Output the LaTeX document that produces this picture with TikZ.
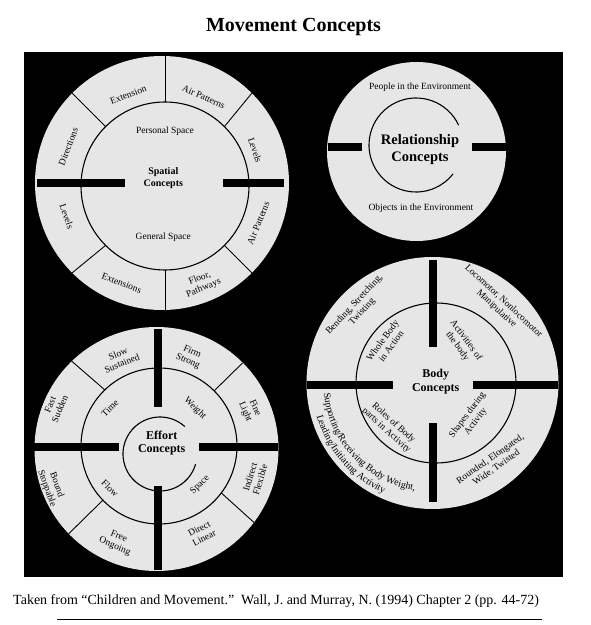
\documentclass[tikz,border=0pt]{standalone}
\usepackage{fontspec}
\setmainfont{Liberation Serif}
\usetikzlibrary{calc,decorations.text}
\definecolor{disc}{HTML}{E6E6E6}
\begin{document}
\begin{tikzpicture}[x=1pt,y=1pt,
  lbl/.style={font=\fontsize{9.5}{10.5}\selectfont, align=center, inner sep=0pt},
  ctr/.style={font=\bfseries\fontsize{12}{13.5}\selectfont, align=center, inner sep=0pt},
  bar/.style={line width=7.5pt},
  thinline/.style={line width=0.9pt},
  ring/.style={line width=1.1pt}]
\useasboundingbox (0,0) rectangle (591,625);
\fill[white] (0,0) rectangle (591,625);
\fill[black] (24,48) rectangle (563,573);

% title and caption
\node[font=\bfseries\fontsize{20}{23}\selectfont, inner sep=0pt] (title) at (293.5,598) {Movement Concepts};
\node[anchor=west, font=\fontsize{14}{16}\selectfont, inner sep=0pt] (cap) at (13,24) {Taken from “Children and Movement.”\ \ Wall, J. and Murray, N. (1994) Chapter 2 (pp. 44-72)};
\coordinate (ruleL) at (57,6);
\coordinate (ruleR) at (542,6);
\draw[line width=0.8pt] (ruleL) -- (ruleR);

% ---------------- Spatial concepts
\coordinate (So) at (162,442);
\coordinate (Si) at (165,439);
\fill[disc] (So) circle (127);
\draw[ring] (Si) circle (84);
\foreach \a in {45,135,225,315} \draw[thinline] ($(Si)+(\a:84)$) -- ($(So)+(\a:127)$);
\draw[thinline] ($(Si)+(90:84)$) -- ++(0,46);
\draw[thinline] ($(Si)+(270:84)$) -- ++(0,-40);
\draw[bar] (37,442) -- (125,442);
\draw[bar] (223,442) -- (284,442);
\node[lbl, rotate=21] (s1) at (128.3,530) {Extension};
\node[lbl, rotate=-24] (s2) at (203.7,528.3) {Air Patterns};
\node[lbl, rotate=-71] (s3) at (255,475) {Levels};
\node[lbl, rotate=69] (s4) at (68.3,478.3) {Directions};
\node[lbl, rotate=-70] (s5) at (66.7,408.3) {Levels};
\node[lbl, rotate=68] (s6) at (258.3,401.7) {Air Patterns};
\node[lbl, rotate=-21] (s7) at (121.7,341.7) {Extensions};
\node[lbl, rotate=22] (s8) at (201.7,341.7) {Floor,\\Pathways};
\node[lbl] (s9) at (165,493.3) {Personal Space};
\node[lbl] (s10) at (163.3,387.3) {General Space};
\node[ctr, font=\bfseries\fontsize{10}{11.5}\selectfont] (sc) at (163.3,446.7) {Spatial\\Concepts};

% ---------------- Relationship concepts
\coordinate (Ro) at (416.5,473.5);
\coordinate (Ra) at (416,480);
\fill[disc] (Ro) circle (89.5);
\draw[ring] ($(Ra)+(25:47)$) arc (25:322:47);
\draw[bar, line width=8pt] (328,477.5) -- (362,477.5);
\draw[bar, line width=8pt] (472,477.5) -- (506,477.5);
\node[lbl] (r1) at (420,538) {People in the Environment};
\node[lbl] (r2) at (421,417) {Objects in the Environment};
\node[ctr, font=\bfseries\fontsize{14.5}{17}\selectfont] (rc) at (420,475) {Relationship\\Concepts};

% ---------------- Effort concepts
\coordinate (Eo) at (156.5,176);
\coordinate (Em) at (159,179);
\coordinate (Ea) at (160,171);
\fill[disc] (Eo) circle (122);
\draw[ring] (Em) circle (78);
\draw[ring] ($(Ea)+(48:37)$) arc (48:344:37);
\foreach \a in {134,45,-37,224} \draw[thinline] ($(Em)+(\a:78)$) -- ($(Eo)+(\a:122)$);
\draw[bar] (158,296) -- (158,218);
\draw[bar] (158,139) -- (158,55);
\draw[bar] (33,178) -- (119,178);
\draw[bar] (199,178) -- (278,178);
\node[lbl, rotate=22] (e1) at (120,266.7) {Slow\\Sustained};
\node[lbl, rotate=-24] (e2) at (190,268.3) {Firm\\Strong};
\node[lbl, rotate=-67] (e3) at (250,215) {Fine\\Light};
\node[lbl, rotate=67] (e4) at (55,218.3) {Fast\\Sudden};
\node[lbl, rotate=-70] (e5) at (51.7,138.3) {Bound\\Stoppable};
\node[lbl, rotate=73] (e6) at (255,146.7) {Indirect\\Flexible};
\node[lbl, rotate=28] (e7) at (201.7,91.7) {Direct\\Linear};
\node[lbl, rotate=-23] (e8) at (116.7,83.3) {Free\\Ongoing};
\node[lbl, rotate=45] (e9) at (110,216.7) {Time};
\node[lbl, rotate=-45] (e10) at (195,216.7) {Weight};
\node[lbl, rotate=-45] (e11) at (110,136.7) {Flow};
\node[lbl, rotate=45] (e12) at (200,140) {Space};
\node[ctr] (ec) at (161.7,181.7) {Effort\\Concepts};

% ---------------- Body concepts
\coordinate (Bo) at (432.5,242);
\coordinate (Bi) at (436,242);
\fill[disc] (Bo) circle (126);
\draw[ring] (Bi) circle (80);
\draw[bar] (433,365) -- (433,278);
\draw[bar] (433,202) -- (433,123);
\draw[bar] (307,240) -- (393,240);
\draw[bar] (473,240) -- (558,240);
\node[lbl, rotate=47] (b1) at (358.3,316.7) {Bending, Stretching,\\Twisting};
\node[lbl, rotate=-43] (b2) at (500,320) {Locomotor, Nonlocomotor\\Manipulative};
\node[lbl, rotate=54] (b3) at (386.7,281.7) {Whole Body\\in Action};
\node[lbl, rotate=-54] (b4) at (461.7,281.7) {Activities of\\the body};
\node[lbl, rotate=-42] (b5) at (390,198.3) {Roles of Body\\parts in Activity};
\node[lbl, rotate=53] (b6) at (471.7,206.7) {Shapes during\\Activity};
\node[lbl, rotate=35] (b7) at (493.3,161.7) {Rounded, Elongated,\\Wide, Twisted};
\node[ctr] (bc) at (435.7,243.3) {Body\\Concepts};
\path[decorate, decoration={text along path, text align=center,
  text={|\fontsize{9.8}{11}\selectfont|Supporting/Receiving Body Weight,}}]
  ($(Bo)+(174:109)$) arc (174:272:109);
\path[decorate, decoration={text along path, text align=center,
  text={|\fontsize{9.8}{11}\selectfont|Leading/Initiating Activity}}]
  ($(Bo)+(172:120.5)$) arc (172:270:120.5);
\end{tikzpicture}
\end{document}
